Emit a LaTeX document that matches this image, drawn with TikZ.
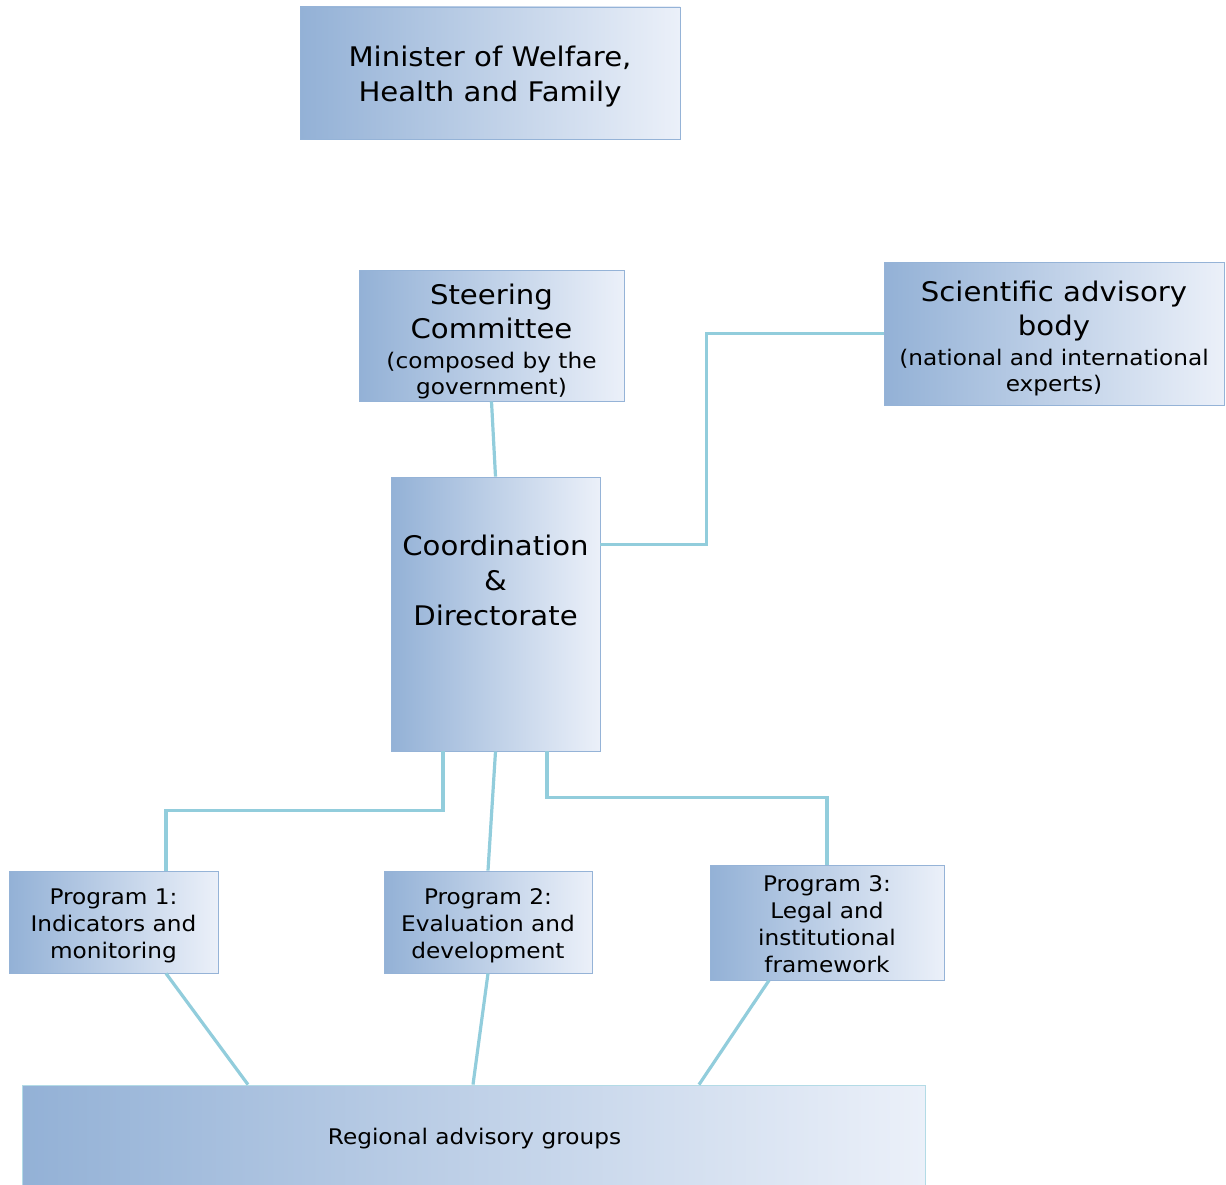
\documentclass[tikz,border=0pt]{standalone}
\usepackage{fontspec}
\setmainfont[FakeStretch=1.08]{DejaVu Sans}
\usetikzlibrary{calc}
\definecolor{boxL}{HTML}{93B1D6}
\definecolor{boxR}{HTML}{EBF0F9}
\definecolor{boxB}{HTML}{95B3D7}
\definecolor{regB}{HTML}{B3DBE6}
\definecolor{conn}{HTML}{92CDDC}
\newcommand{\bigf}{\fontsize{27}{35}\selectfont}
\tikzset{
  box/.style={draw=boxB, line width=0.8pt, left color=boxL, right color=boxR,
    inner sep=0pt},
  txt/.style={inner sep=0pt, align=center, text=black},
  big/.style={txt, font=\fontsize{27}{35}\selectfont},
  small/.style={txt, font=\fontsize{21.5}{27}\selectfont},
  mixed/.style={txt, font=\fontsize{21.5}{26}\selectfont},
  link/.style={draw=conn, line width=3.2pt},
}
\begin{document}
\begin{tikzpicture}[x=1pt,y=-1pt]
\useasboundingbox (0,0) rectangle (1226,1185);
% boxes
\node[box,minimum width=380,minimum height=132] (min) at (490,73) {};
\node[box,minimum width=265,minimum height=131] (steer) at (491.5,335.5) {};
\node[box,minimum width=340,minimum height=143] (sci) at (1054,333.5) {};
\node[box,minimum width=209,minimum height=274] (coord) at (495.5,614) {};
\node[box,minimum width=209,minimum height=102] (p1) at (113.5,922) {};
\node[box,minimum width=208,minimum height=102] (p2) at (488,922) {};
\node[box,minimum width=234,minimum height=115] (p3) at (827,922.5) {};
\node[box,draw=regB,minimum width=903,minimum height=100] (reg) at (473.5,1135) {};
% texts
\node[big] (mintxt) at ($(min.center)+(0,4)$) {Minister of Welfare,\\Health and Family};
\node[mixed] (steertxt) at ($(steer.center)+(0,6)$)
  {\bigf Steering\\[6pt] \bigf Committee\\[4pt] (composed by the\\ government)};
\node[mixed] (scitxt) at ($(sci.center)+(0,5)$)
  {\bigf Scientific advisory\\[6pt] \bigf body\\[4pt] (national and international\\ experts)};
\node[big] (coordtxt) at (495.5,580) {Coordination\\\&\\Directorate};
\node[small] (p1txt) at ($(p1.center)+(0,4)$) {Program 1:\\Indicators and\\monitoring};
\node[small] (p2txt) at ($(p2.center)+(0,4)$) {Program 2:\\Evaluation and\\development};
\node[small] (p3txt) at ($(p3.center)+(0,2)$) {Program 3:\\Legal and\\institutional\\framework};
\node[small] (regtxt) at ($(reg.center)+(1,4)$) {Regional advisory groups};
% connectors
\draw[link] (steer.south) -- (coord.north);
\draw[link] ($(coord.north east)+(0,68)$) -- ++(106,0) |- (sci.west);
\draw[link] ($(coord.south)+(-52.5,0)$) -- ++(0,59) -| ($(p1.north)+(52.5,0)$);
\draw[link] (coord.south) -- (p2.north);
\draw[link] ($(coord.south)+(51.5,0)$) -- ++(0,46) -| (p3.north);
\draw[link] ($(p1.south)+(52.5,0)$) -- ($(reg.north)+(-225.5,0)$);
\draw[link] (p2.south) -- ($(reg.north)+(-0.5,0)$);
\draw[link] ($(p3.south)+(-58,0)$) -- ($(reg.north)+(225.5,0)$);
\end{tikzpicture}
\end{document}
